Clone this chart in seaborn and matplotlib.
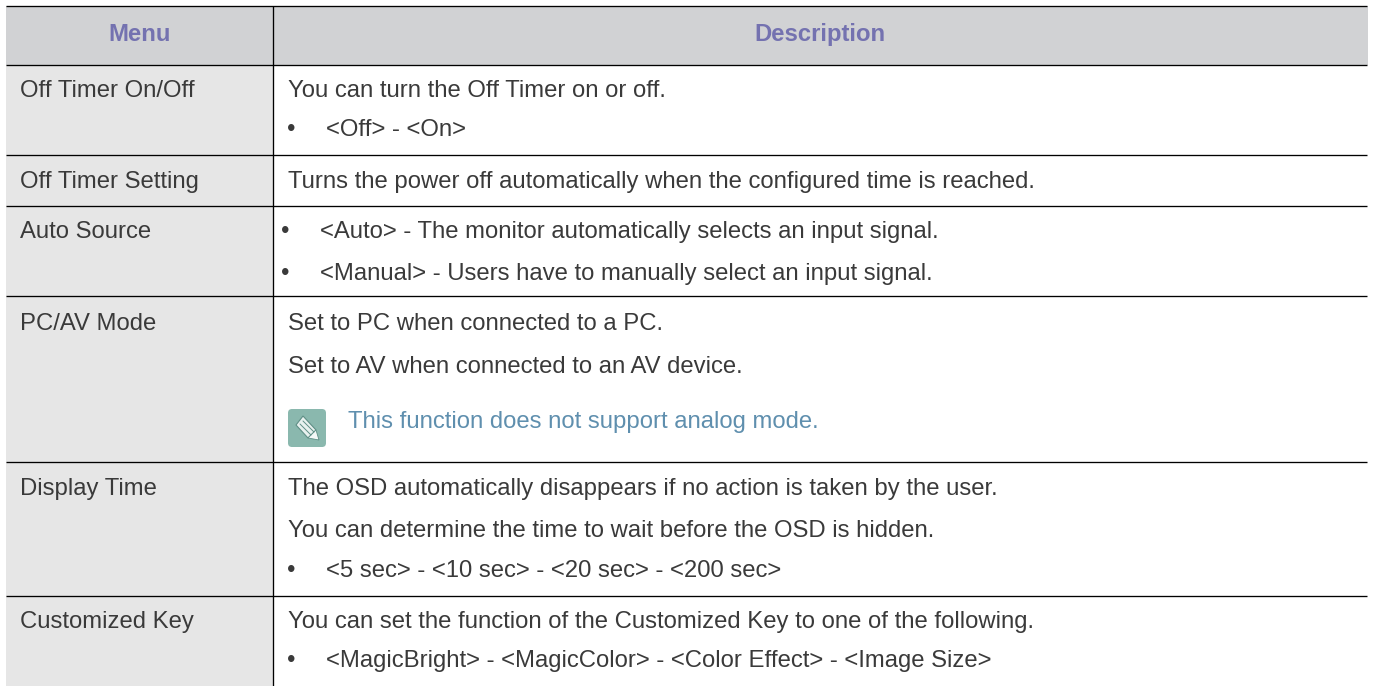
import matplotlib
matplotlib.use("Agg")
import matplotlib.pyplot as plt
from matplotlib.patches import FancyBboxPatch, Polygon
import seaborn as sns

# table content
header_labels = ["Menu", "Description"]
menu_items = ["Off Timer On/Off", "Off Timer Setting", "Auto Source", "PC/AV Mode",
              "Display Time", "Customized Key"]
# (text, kind) for each line of the right column, one list per row
row_lines = [
    [("You can turn the Off Timer on or off.", "plain"),
     ("<Off> - <On>", "bullet")],
    [("Turns the power off automatically when the configured time is reached.", "plain")],
    [("<Auto> - The monitor automatically selects an input signal.", "bullet2"),
     ("<Manual> - Users have to manually select an input signal.", "bullet2")],
    [("Set to PC when connected to a PC.", "plain"),
     ("Set to AV when connected to an AV device.", "plain"),
     ("This function does not support analog mode.", "note")],
    [("The OSD automatically disappears if no action is taken by the user.", "plain"),
     ("You can determine the time to wait before the OSD is hidden.", "plain"),
     ("<5 sec> - <10 sec> - <20 sec> - <200 sec>", "bullet")],
    [("You can set the function of the Customized Key to one of the following.", "plain"),
     ("<MagicBright> - <MagicColor> - <Color Effect> - <Image Size>", "bullet")],
]

# layout in pixels
left, col_x, right = 6, 273, 1367
top, header_bottom, bottom = 6, 65, 686
row_edges = [65, 155, 206, 296, 462, 596]
menu_baselines = [97, 188, 238, 330, 495, 628]
line_baselines = [
    [97, 136], [188], [238, 280], [330, 373, 428], [495, 537, 577], [628, 667],
]
font_px = 23.9
text_color = "#3a3a3a"

sns.set_theme(style="white")
plt.rcParams["font.family"] = ["Liberation Sans", "DejaVu Sans"]

fig, ax = plt.subplots(figsize=(13.74, 6.86), dpi=100)
ax.set_position([0, 0, 1, 1])
ax.set_xlim(0, 1374)
ax.set_ylim(686, 0)
ax.axis("off")
fs = font_px * 0.72

# fills
ax.fill_between([left, right + 1], top, header_bottom, color="#d1d2d4", lw=0)
ax.fill_between([left, col_x], header_bottom, bottom, color="#e6e6e6", lw=0)

# rules
for y in [top] + row_edges:
    ax.plot([left, right], [y, y], color="black", lw=0.95, solid_capstyle="butt")
ax.plot([col_x, col_x], [top, bottom], color="black", lw=0.95, solid_capstyle="butt")

# header
ax.text((left + col_x) / 2, 41, header_labels[0], ha="center", va="baseline",
        fontsize=fs, fontweight="bold", color="#7472b0")
ax.text((col_x + right) / 2, 41, header_labels[1], ha="center", va="baseline",
        fontsize=fs, fontweight="bold", color="#7472b0")

# left column
for label, y in zip(menu_items, menu_baselines):
    ax.text(20, y, label, va="baseline", fontsize=fs, color=text_color)


def draw_note_icon(x0, y0, size):
    ax.add_patch(FancyBboxPatch((x0 + 3, y0 + 3), size - 6, size - 6,
                                boxstyle="round,pad=3,rounding_size=4",
                                fc="#8ab8ae", ec="none"))
    # pencil body and tip
    body = [(x0 + 8, y0 + 16), (x0 + 15, y0 + 7), (x0 + 28, y0 + 21), (x0 + 20, y0 + 29)]
    tip = [(x0 + 28, y0 + 21), (x0 + 31, y0 + 31), (x0 + 20, y0 + 29)]
    ax.add_patch(Polygon(body, fc="#e8f1ef", ec="#5f8f86", lw=0.8))
    ax.add_patch(Polygon(tip, fc="#f4f8f7", ec="#5f8f86", lw=0.6))
    for d in [0, 3]:
        ax.plot([x0 + 12 + d, x0 + 23 + d], [y0 + 15 - d, y0 + 26 - d],
                color="#5f8f86", lw=0.7)


# right column
for lines, ys in zip(row_lines, line_baselines):
    for (txt, kind), y in zip(lines, ys):
        if kind == "plain":
            ax.text(288, y, txt, va="baseline", fontsize=fs, color=text_color)
        elif kind == "note":
            draw_note_icon(288, 409, 38)
            ax.text(348, y, txt, va="baseline", fontsize=fs, color="#5f8fae")
        else:
            # Auto Source bullets sit a little further left
            shift = 6 if kind == "bullet2" else 0
            ax.text(291 - shift, y, "\u2022", ha="center", va="baseline", fontsize=fs,
                    color=text_color)
            ax.text(326 - shift, y, txt, va="baseline", fontsize=fs, color=text_color)

fig.savefig("out.png", dpi=100)
